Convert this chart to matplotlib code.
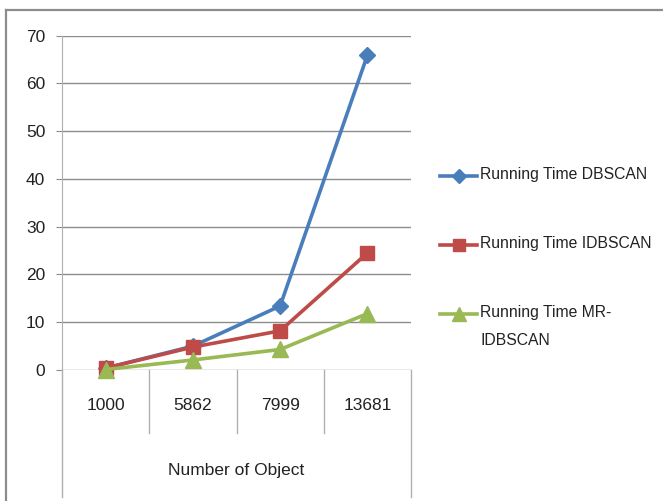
import matplotlib
matplotlib.use("Agg")
import matplotlib.pyplot as plt
from matplotlib.lines import Line2D

# dados do gráfico
categorias = ["1000", "5862", "7999", "13681"]
tempo_dbscan = [0.4, 5.0, 13.4, 65.9]
tempo_idbscan = [0.4, 4.8, 8.2, 24.5]
tempo_mr_idbscan = [0.1, 2.1, 4.3, 11.8]
rotulos = ["Running Time DBSCAN", "Running Time IDBSCAN", "Running Time MR-\nIDBSCAN"]
eixo_x = "Number of Object"

plt.rcParams["font.family"] = ["Liberation Sans", "DejaVu Sans"]

W, H = 663, 501
fig = plt.figure(figsize=(W / 100, H / 100), dpi=100)
cinza = "#8c8c8c"
texto = "#222222"


def px(x, y):
    # pixel (origem no canto superior esquerdo) -> fração da figura
    return x / W, 1 - y / H


# moldura externa
fig.add_artist(Line2D([6 / W, 1], [1 - 10 / H] * 2, color=cinza, lw=1.6, transform=fig.transFigure))
fig.add_artist(Line2D([6 / W] * 2, [0, 1 - 10 / H], color=cinza, lw=1.6, transform=fig.transFigure))

x0, x1, y0, y1 = 62, 411, 370, 35.7
ax = fig.add_axes([x0 / W, 1 - y0 / H, (x1 - x0) / W, (y0 - y1) / H])

cores = ["#4A7EBB", "#BE4B48", "#98B954"]
marcadores = ["D", "s", "^"]
tamanhos = [8.5, 10, 11]
series = [tempo_dbscan, tempo_idbscan, tempo_mr_idbscan]
pos = list(range(len(categorias)))
for s, c, m, t in zip(series, cores, marcadores, tamanhos):
    ax.plot(pos, s, color=c, lw=2.6, marker=m, markersize=t, clip_on=False, zorder=3)

ax.set_xlim(-0.5, 3.5)
ax.set_ylim(0, 70)
ax.set_yticks(range(0, 71, 10))
ax.tick_params(axis="y", length=4, color=cinza, labelsize=12.5, pad=8, labelcolor=texto)
ax.set_xticks([])
ax.yaxis.grid(True, color=cinza, lw=1)
ax.set_axisbelow(True)
for lado in ["top", "right", "bottom"]:
    ax.spines[lado].set_visible(False)
ax.spines["left"].set_color("#b0b0b0")

# tabela de categorias abaixo do eixo
fy = lambda ypix: (y0 - ypix) / (y0 - y1)
for xs in [-0.5, 3.5]:
    ax.plot([xs, xs], [0, fy(497)], color="#b0b0b0", lw=1,
            transform=ax.get_xaxis_transform(), clip_on=False)
for xs in [0.5, 1.5, 2.5]:
    ax.plot([xs, xs], [0, fy(433)], color="#b0b0b0", lw=1,
            transform=ax.get_xaxis_transform(), clip_on=False)
for i, cat in enumerate(categorias):
    ax.text(i, fy(406), cat, ha="center", va="center", fontsize=12.5,
            color=texto, transform=ax.get_xaxis_transform())
ax.text(1.5, fy(470), eixo_x, ha="center", va="center", fontsize=12.5,
        color=texto, transform=ax.get_xaxis_transform())

# legenda
leg_y = [176, 245, 314]
for yy, c, m, t, txt in zip(leg_y, cores, marcadores, tamanhos, rotulos):
    xa, ya = px(440, yy)
    xb, _ = px(477, yy)
    fig.add_artist(Line2D([xa, xb], [ya, ya], color=c, lw=2.6, transform=fig.transFigure))
    fig.add_artist(Line2D([(xa + xb) / 2], [ya], color=c, marker=m, markersize=t - 1,
                          transform=fig.transFigure))
    tx, ty = px(480, yy - 9)
    fig.text(tx, ty, txt, ha="left", va="top", fontsize=11.3, color=texto,
             linespacing=2.05)

fig.savefig("out.png", dpi=100)
